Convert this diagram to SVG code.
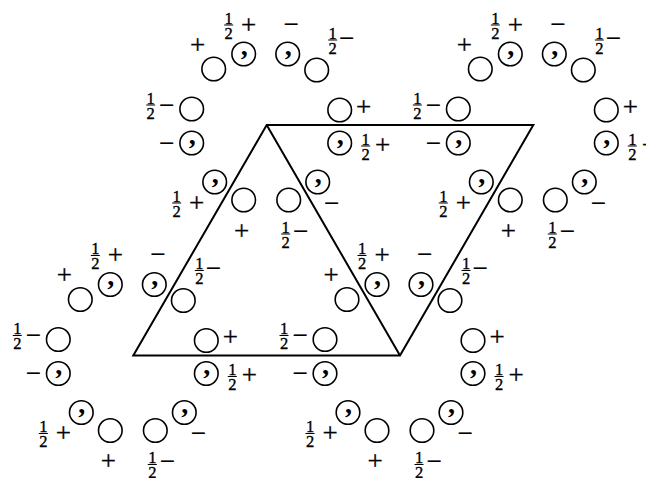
<svg xmlns="http://www.w3.org/2000/svg" width="646" height="478" viewBox="0 0 646 478">
<style>
.c{fill:none;stroke:#000;stroke-width:1.6}
.k{font-family:"Liberation Serif",serif;font-weight:bold;font-size:28px;text-anchor:middle;fill:#000}
.s{font-family:"Liberation Serif",serif;font-size:27px;text-anchor:middle;fill:#000;stroke:#000;stroke-width:0.3}
.d{font-family:"Liberation Serif",serif;font-size:16.5px;text-anchor:middle;fill:#000;stroke:#000;stroke-width:0.35}
.b{stroke:#000;stroke-width:1}
.e{fill:none;stroke:#000;stroke-width:2;stroke-linejoin:miter}
</style>
<rect width="646" height="478" fill="#fff"/>
<g id="lattice">
<path class="e" d="M266.7,125 L533.3,125 L400,355.5 L133.3,355.5 Z M266.7,125 L400,355.5"/>
</g>
<g id="ring-top-left" transform="translate(266.7,125)">
<circle class="c" cx="-53" cy="-56" r="11.8"/>
<circle class="c" cx="-23" cy="-71" r="11.8"/><text class="k" x="-22.5" y="-70.5">,</text>
<circle class="c" cx="21" cy="-71" r="11.8"/><text class="k" x="21.5" y="-70.5">,</text>
<circle class="c" cx="50" cy="-55" r="11.8"/>
<circle class="c" cx="-75" cy="-16" r="11.8"/>
<circle class="c" cx="-75" cy="18" r="11.8"/><text class="k" x="-74.5" y="18.5">,</text>
<circle class="c" cx="-52" cy="57" r="11.8"/><text class="k" x="-51.5" y="57.5">,</text>
<circle class="c" cx="-23" cy="75" r="11.8"/>
<circle class="c" cx="22" cy="75" r="11.8"/>
<circle class="c" cx="51" cy="57" r="11.8"/><text class="k" x="51.5" y="57.5">,</text>
<circle class="c" cx="73" cy="-15" r="11.8"/>
<circle class="c" cx="73" cy="18" r="11.8"/><text class="k" x="73.5" y="18.5">,</text>
<text class="s" x="-69" y="-71.2">+</text>
<text class="d"><tspan x="-38" y="-101.5">1</tspan><tspan x="-38" y="-86.5">2</tspan></text><line class="b" x1="-42.5" y1="-100" x2="-33.5" y2="-100"/>
<text class="s" x="-18" y="-91.2">+</text>
<text class="s" x="24.5" y="-92.2">−</text>
<text class="d"><tspan x="66" y="-86.5">1</tspan><tspan x="66" y="-71.5">2</tspan></text><line class="b" x1="61.5" y1="-85" x2="70.5" y2="-85"/>
<text class="s" x="80" y="-78.2">−</text>
<text class="d"><tspan x="-116" y="-21.5">1</tspan><tspan x="-116" y="-6.5">2</tspan></text><line class="b" x1="-120.5" y1="-20" x2="-111.5" y2="-20"/>
<text class="s" x="-100" y="-11.2">−</text>
<text class="s" x="-100" y="26.8">−</text>
<text class="d"><tspan x="-90" y="76.5">1</tspan><tspan x="-90" y="91.5">2</tspan></text><line class="b" x1="-94.5" y1="78" x2="-85.5" y2="78"/>
<text class="s" x="-70" y="86.8">+</text>
<text class="s" x="-25" y="114.8">+</text>
<text class="d"><tspan x="19" y="107.5">1</tspan><tspan x="19" y="122.5">2</tspan></text><line class="b" x1="14.5" y1="109" x2="23.5" y2="109"/>
<text class="s" x="34" y="114.8">−</text>
<text class="s" x="65" y="86.8">−</text>
<text class="s" x="97" y="-9.2">+</text>
<text class="d"><tspan x="99" y="19.5">1</tspan><tspan x="99" y="34.5">2</tspan></text><line class="b" x1="94.5" y1="21" x2="103.5" y2="21"/>
<text class="s" x="116" y="28.8">+</text>
</g>
<g id="ring-top-right" transform="translate(533.3,125)">
<circle class="c" cx="-53" cy="-56" r="11.8"/>
<circle class="c" cx="-23" cy="-71" r="11.8"/><text class="k" x="-22.5" y="-70.5">,</text>
<circle class="c" cx="21" cy="-71" r="11.8"/><text class="k" x="21.5" y="-70.5">,</text>
<circle class="c" cx="50" cy="-55" r="11.8"/>
<circle class="c" cx="-75" cy="-16" r="11.8"/>
<circle class="c" cx="-75" cy="18" r="11.8"/><text class="k" x="-74.5" y="18.5">,</text>
<circle class="c" cx="-52" cy="57" r="11.8"/><text class="k" x="-51.5" y="57.5">,</text>
<circle class="c" cx="-23" cy="75" r="11.8"/>
<circle class="c" cx="22" cy="75" r="11.8"/>
<circle class="c" cx="51" cy="57" r="11.8"/><text class="k" x="51.5" y="57.5">,</text>
<circle class="c" cx="73" cy="-15" r="11.8"/>
<circle class="c" cx="73" cy="18" r="11.8"/><text class="k" x="73.5" y="18.5">,</text>
<text class="s" x="-69" y="-71.2">+</text>
<text class="d"><tspan x="-38" y="-101.5">1</tspan><tspan x="-38" y="-86.5">2</tspan></text><line class="b" x1="-42.5" y1="-100" x2="-33.5" y2="-100"/>
<text class="s" x="-18" y="-91.2">+</text>
<text class="s" x="24.5" y="-92.2">−</text>
<text class="d"><tspan x="66" y="-86.5">1</tspan><tspan x="66" y="-71.5">2</tspan></text><line class="b" x1="61.5" y1="-85" x2="70.5" y2="-85"/>
<text class="s" x="80" y="-78.2">−</text>
<text class="d"><tspan x="-116" y="-21.5">1</tspan><tspan x="-116" y="-6.5">2</tspan></text><line class="b" x1="-120.5" y1="-20" x2="-111.5" y2="-20"/>
<text class="s" x="-100" y="-11.2">−</text>
<text class="s" x="-100" y="26.8">−</text>
<text class="d"><tspan x="-90" y="76.5">1</tspan><tspan x="-90" y="91.5">2</tspan></text><line class="b" x1="-94.5" y1="78" x2="-85.5" y2="78"/>
<text class="s" x="-70" y="86.8">+</text>
<text class="s" x="-25" y="114.8">+</text>
<text class="d"><tspan x="19" y="107.5">1</tspan><tspan x="19" y="122.5">2</tspan></text><line class="b" x1="14.5" y1="109" x2="23.5" y2="109"/>
<text class="s" x="34" y="114.8">−</text>
<text class="s" x="65" y="86.8">−</text>
<text class="s" x="97" y="-9.2">+</text>
<text class="d"><tspan x="99" y="19.5">1</tspan><tspan x="99" y="34.5">2</tspan></text><line class="b" x1="94.5" y1="21" x2="103.5" y2="21"/>
<text class="s" x="116" y="28.8">+</text>
</g>
<g id="ring-bottom-left" transform="translate(133.3,355.5)">
<circle class="c" cx="-53" cy="-56" r="11.8"/>
<circle class="c" cx="-23" cy="-71" r="11.8"/><text class="k" x="-22.5" y="-70.5">,</text>
<circle class="c" cx="21" cy="-71" r="11.8"/><text class="k" x="21.5" y="-70.5">,</text>
<circle class="c" cx="50" cy="-55" r="11.8"/>
<circle class="c" cx="-75" cy="-16" r="11.8"/>
<circle class="c" cx="-75" cy="18" r="11.8"/><text class="k" x="-74.5" y="18.5">,</text>
<circle class="c" cx="-52" cy="57" r="11.8"/><text class="k" x="-51.5" y="57.5">,</text>
<circle class="c" cx="-23" cy="75" r="11.8"/>
<circle class="c" cx="22" cy="75" r="11.8"/>
<circle class="c" cx="51" cy="57" r="11.8"/><text class="k" x="51.5" y="57.5">,</text>
<circle class="c" cx="73" cy="-15" r="11.8"/>
<circle class="c" cx="73" cy="18" r="11.8"/><text class="k" x="73.5" y="18.5">,</text>
<text class="s" x="-69" y="-71.2">+</text>
<text class="d"><tspan x="-38" y="-101.5">1</tspan><tspan x="-38" y="-86.5">2</tspan></text><line class="b" x1="-42.5" y1="-100" x2="-33.5" y2="-100"/>
<text class="s" x="-18" y="-91.2">+</text>
<text class="s" x="24.5" y="-92.2">−</text>
<text class="d"><tspan x="66" y="-86.5">1</tspan><tspan x="66" y="-71.5">2</tspan></text><line class="b" x1="61.5" y1="-85" x2="70.5" y2="-85"/>
<text class="s" x="80" y="-78.2">−</text>
<text class="d"><tspan x="-116" y="-21.5">1</tspan><tspan x="-116" y="-6.5">2</tspan></text><line class="b" x1="-120.5" y1="-20" x2="-111.5" y2="-20"/>
<text class="s" x="-100" y="-11.2">−</text>
<text class="s" x="-100" y="26.8">−</text>
<text class="d"><tspan x="-90" y="76.5">1</tspan><tspan x="-90" y="91.5">2</tspan></text><line class="b" x1="-94.5" y1="78" x2="-85.5" y2="78"/>
<text class="s" x="-70" y="86.8">+</text>
<text class="s" x="-25" y="114.8">+</text>
<text class="d"><tspan x="19" y="107.5">1</tspan><tspan x="19" y="122.5">2</tspan></text><line class="b" x1="14.5" y1="109" x2="23.5" y2="109"/>
<text class="s" x="34" y="114.8">−</text>
<text class="s" x="65" y="86.8">−</text>
<text class="s" x="97" y="-9.2">+</text>
<text class="d"><tspan x="99" y="19.5">1</tspan><tspan x="99" y="34.5">2</tspan></text><line class="b" x1="94.5" y1="21" x2="103.5" y2="21"/>
<text class="s" x="116" y="28.8">+</text>
</g>
<g id="ring-bottom-right" transform="translate(400,355.5)">
<circle class="c" cx="-53" cy="-56" r="11.8"/>
<circle class="c" cx="-23" cy="-71" r="11.8"/><text class="k" x="-22.5" y="-70.5">,</text>
<circle class="c" cx="21" cy="-71" r="11.8"/><text class="k" x="21.5" y="-70.5">,</text>
<circle class="c" cx="50" cy="-55" r="11.8"/>
<circle class="c" cx="-75" cy="-16" r="11.8"/>
<circle class="c" cx="-75" cy="18" r="11.8"/><text class="k" x="-74.5" y="18.5">,</text>
<circle class="c" cx="-52" cy="57" r="11.8"/><text class="k" x="-51.5" y="57.5">,</text>
<circle class="c" cx="-23" cy="75" r="11.8"/>
<circle class="c" cx="22" cy="75" r="11.8"/>
<circle class="c" cx="51" cy="57" r="11.8"/><text class="k" x="51.5" y="57.5">,</text>
<circle class="c" cx="73" cy="-15" r="11.8"/>
<circle class="c" cx="73" cy="18" r="11.8"/><text class="k" x="73.5" y="18.5">,</text>
<text class="s" x="-69" y="-71.2">+</text>
<text class="d"><tspan x="-38" y="-101.5">1</tspan><tspan x="-38" y="-86.5">2</tspan></text><line class="b" x1="-42.5" y1="-100" x2="-33.5" y2="-100"/>
<text class="s" x="-18" y="-91.2">+</text>
<text class="s" x="24.5" y="-92.2">−</text>
<text class="d"><tspan x="66" y="-86.5">1</tspan><tspan x="66" y="-71.5">2</tspan></text><line class="b" x1="61.5" y1="-85" x2="70.5" y2="-85"/>
<text class="s" x="80" y="-78.2">−</text>
<text class="d"><tspan x="-116" y="-21.5">1</tspan><tspan x="-116" y="-6.5">2</tspan></text><line class="b" x1="-120.5" y1="-20" x2="-111.5" y2="-20"/>
<text class="s" x="-100" y="-11.2">−</text>
<text class="s" x="-100" y="26.8">−</text>
<text class="d"><tspan x="-90" y="76.5">1</tspan><tspan x="-90" y="91.5">2</tspan></text><line class="b" x1="-94.5" y1="78" x2="-85.5" y2="78"/>
<text class="s" x="-70" y="86.8">+</text>
<text class="s" x="-25" y="114.8">+</text>
<text class="d"><tspan x="19" y="107.5">1</tspan><tspan x="19" y="122.5">2</tspan></text><line class="b" x1="14.5" y1="109" x2="23.5" y2="109"/>
<text class="s" x="34" y="114.8">−</text>
<text class="s" x="65" y="86.8">−</text>
<text class="s" x="97" y="-9.2">+</text>
<text class="d"><tspan x="99" y="19.5">1</tspan><tspan x="99" y="34.5">2</tspan></text><line class="b" x1="94.5" y1="21" x2="103.5" y2="21"/>
<text class="s" x="116" y="28.8">+</text>
</g>
</svg>
